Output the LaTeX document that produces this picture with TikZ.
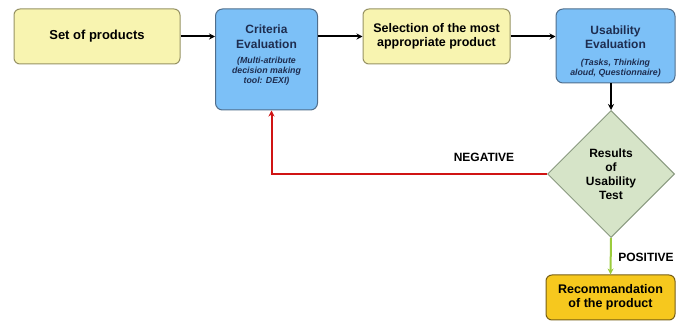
\documentclass[tikz,border=0pt]{standalone}
\usepackage{fontspec}
\setmainfont{Liberation Sans}
\usetikzlibrary{shapes.geometric,arrows.meta}

\definecolor{boxyellow}{RGB}{248,244,176}
\definecolor{lineyellow}{RGB}{150,146,100}
\definecolor{boxblue}{RGB}{124,192,247}
\definecolor{lineblue}{RGB}{80,110,140}
\definecolor{textblue}{RGB}{30,45,80}
\definecolor{boxgreen}{RGB}{214,228,200}
\definecolor{linegreen}{RGB}{138,154,128}
\definecolor{boxgold}{RGB}{246,200,30}
\definecolor{linegold}{RGB}{120,95,20}
\definecolor{negred}{RGB}{208,20,20}
\definecolor{posgreen}{RGB}{155,203,60}

\newcommand{\subnote}[1]{{\bfseries\itshape\fontsize{8.8}{10}\selectfont
  \begin{tabular}{@{}c@{}}#1\end{tabular}}}

\tikzset{
  stagebox/.style={draw=lineyellow, fill=boxyellow, line width=1pt, rounded corners=6pt,
    inner sep=0pt, align=center, font=\bfseries\fontsize{12.5}{14}\selectfont},
  evalbox/.style={draw=lineblue, fill=boxblue, line width=1pt, rounded corners=7pt,
    inner sep=0pt, align=center, text=textblue, font=\bfseries\fontsize{12}{14.5}\selectfont},
  testdiamond/.style={diamond, draw=linegreen, fill=boxgreen, line width=1pt, aspect=1,
    inner sep=0pt, align=center, font=\bfseries\fontsize{12}{14}\selectfont},
  resultbox/.style={draw=linegold, fill=boxgold, line width=1pt, rounded corners=6pt,
    inner sep=0pt, align=center, font=\bfseries\fontsize{12.5}{14}\selectfont},
  flow/.style={line width=2pt, -{Stealth[length=6pt,width=6pt]}},
  answer/.style={font=\bfseries\fontsize{12}{13}\selectfont}
}

\begin{document}
\begin{tikzpicture}[x=1pt,y=-1pt]
  \useasboundingbox (0,0) rectangle (681,323);

  % boxes of the procedure
  \node[stagebox, minimum width=166pt, minimum height=55pt, font=\bfseries\fontsize{13}{14}\selectfont]
    (set) at (97,36.5) {Set of products};
  \node[evalbox, minimum width=102pt, minimum height=101pt] (crit) at (266.5,59.5) {};
  \node[align=center, text=textblue, font=\bfseries\fontsize{12}{14.5}\selectfont, inner sep=0pt]
    (critlabel) at (266.5,55.5) {Criteria\\Evaluation\\[7pt]\subnote{(Multi-atribute\\decision making\\tool: DEXI)}};
  \node[stagebox, minimum width=147pt, minimum height=55pt] (sel) at (436.5,36.5)
    {Selection of the most\\appropriate product};
  \node[evalbox, minimum width=119pt, minimum height=74pt] (use) at (615.5,46) {};
  \node[align=center, text=textblue, font=\bfseries\fontsize{12}{14.5}\selectfont, inner sep=0pt]
    (uselabel) at (615.5,52) {Usability\\Evaluation\\[7pt]\subnote{(Tasks, Thinking\\aloud, Questionnaire)}};
  \node[testdiamond, minimum width=127pt, minimum height=127pt] (test) at (611,174)
    {Results\\of\\Usability\\Test};
  \node[resultbox, minimum width=129pt, minimum height=45pt] (rec) at (610.5,297.5)
    {Recommandation\\of the product};

  % connectors
  \draw[flow] (set.east) -- (set.east -| crit.west);
  \draw[flow] (crit.east |- sel.west) -- (sel.west);
  \draw[flow] (sel.east) -- (sel.east -| use.west);
  \draw[flow] (test.north |- use.south) -- (test.north);
  \draw[flow, negred] (test.west) -| ([xshift=5pt]crit.south);
  \draw[flow, posgreen] (test.south) -- (rec.north);

  \node[answer] (neg) at (484,157) {NEGATIVE};
  \node[answer] (pos) at (646,257) {POSITIVE};
\end{tikzpicture}
\end{document}
